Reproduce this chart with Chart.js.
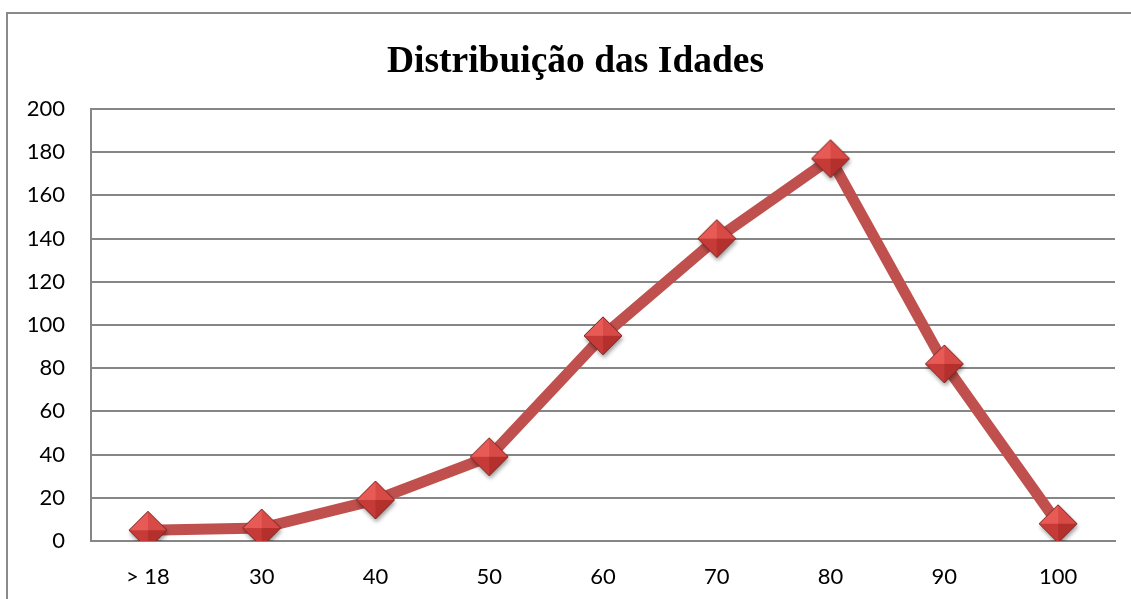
<!DOCTYPE html>
<html>
<head>
<meta charset="utf-8">
<script src="https://cdn.jsdelivr.net/npm/chart.js@4"></script>
<style>
  html, body { margin: 0; padding: 0; background: #fff; }
  #wrap { position: relative; width: 1131px; height: 599px; }
</style>
</head>
<body>
<div id="wrap"><canvas id="chart_idades" width="1131" height="599"></canvas></div>
<script>
// data
const categorias = ['> 18', '30', '40', '50', '60', '70', '80', '90', '100'];
const quantidades = [5, 6, 19, 39, 95, 140, 177, 82, 8];
const tituloGrafico = 'Distribuição das Idades';

// diamond marker with pyramid shading, like the office chart
const makeMarker = (r) => {
    const pad = 6;
    const size = r * 2 + pad * 2;
    const c = document.createElement('canvas');
    c.width = size;
    c.height = size;
    const g = c.getContext('2d');
    const cx = size / 2, cy = size / 2;
    // soft shadow
    g.save();
    g.shadowColor = 'rgba(0,0,0,0.4)';
    g.shadowBlur = 4;
    g.shadowOffsetX = 1;
    g.shadowOffsetY = 3;
    g.beginPath();
    g.moveTo(cx, cy - r); g.lineTo(cx + r, cy); g.lineTo(cx, cy + r); g.lineTo(cx - r, cy);
    g.closePath();
    g.fillStyle = '#c0403d';
    g.fill();
    g.restore();
    const facet = (pts, color) => {
        g.beginPath();
        g.moveTo(cx, cy);
        pts.forEach(p => g.lineTo(p[0], p[1]));
        g.closePath();
        g.fillStyle = color;
        g.fill();
    };
    facet([[cx - r, cy], [cx, cy - r]], '#e85a56');
    facet([[cx, cy - r], [cx + r, cy]], '#d84a46');
    facet([[cx + r, cy], [cx, cy + r]], '#b3302d');
    facet([[cx, cy + r], [cx - r, cy]], '#c63b38');
    g.beginPath();
    g.moveTo(cx, cy - r); g.lineTo(cx + r, cy); g.lineTo(cx, cy + r); g.lineTo(cx - r, cy);
    g.closePath();
    g.strokeStyle = '#7d2523';
    g.lineWidth = 1;
    g.stroke();
    return c;
};

// outer frame of the picture (left and top edges)
const framePlugin = {
    id: 'frame',
    beforeDraw(chart) {
        const ctx = chart.ctx;
        ctx.save();
        ctx.strokeStyle = '#8a8a8a';
        ctx.lineWidth = 2;
        ctx.beginPath();
        ctx.moveTo(7, 599);
        ctx.lineTo(7, 13);
        ctx.lineTo(1131, 13);
        ctx.stroke();
        ctx.restore();
    }
};

const showChart = () => {
    const marker = makeMarker(19);

    new Chart('chart_idades', {
        type: 'line',
        data: {
            labels: categorias,
            datasets: [{
                data: quantidades,
                borderColor: '#c0504d',
                borderWidth: 11,
                tension: 0,
                pointStyle: marker,
                pointRadius: 19,
                pointHoverRadius: 19
            }]
        },
        options: {
            responsive: false,
            animation: false,
            layout: {
                autoPadding: false,
                // title is centred on the frame, which runs past the right edge
                padding: { left: 20, right: 0, top: 0, bottom: 0 }
            },
            plugins: {
                legend: { display: false },
                tooltip: { enabled: false },
                title: {
                    display: true,
                    text: tituloGrafico,
                    color: '#000',
                    font: { family: '"Liberation Serif", "Times New Roman", serif', size: 37.5, weight: 'bold', lineHeight: 1.2 },
                    padding: { top: 40, bottom: 24 }
                }
            },
            scales: {
                x: {
                    offset: true,
                    grid: { display: false, drawTicks: false },
                    border: { display: true, color: '#868686', width: 2 },
                    ticks: {
                        color: '#000',
                        padding: 23,
                        font: { family: 'Lato, "Open Sans", sans-serif', size: 22 }
                    },
                    afterFit: (scale) => {
                        scale.height = 58;
                        // plot area stops 16px short of the right edge
                        scale.paddingLeft = 0;
                        scale.paddingRight = 16;
                    }
                },
                y: {
                    min: 0,
                    max: 200,
                    grid: { color: '#868686', lineWidth: 2, drawTicks: false },
                    border: { display: true, color: '#868686', width: 2 },
                    ticks: {
                        stepSize: 20,
                        color: '#000',
                        padding: 26,
                        font: { family: 'Lato, "Open Sans", sans-serif', size: 22 }
                    },
                    afterFit: (scale) => { scale.width = 71; }
                }
            }
        },
        plugins: [framePlugin]
    });
};

showChart();
</script>
</body>
</html>
